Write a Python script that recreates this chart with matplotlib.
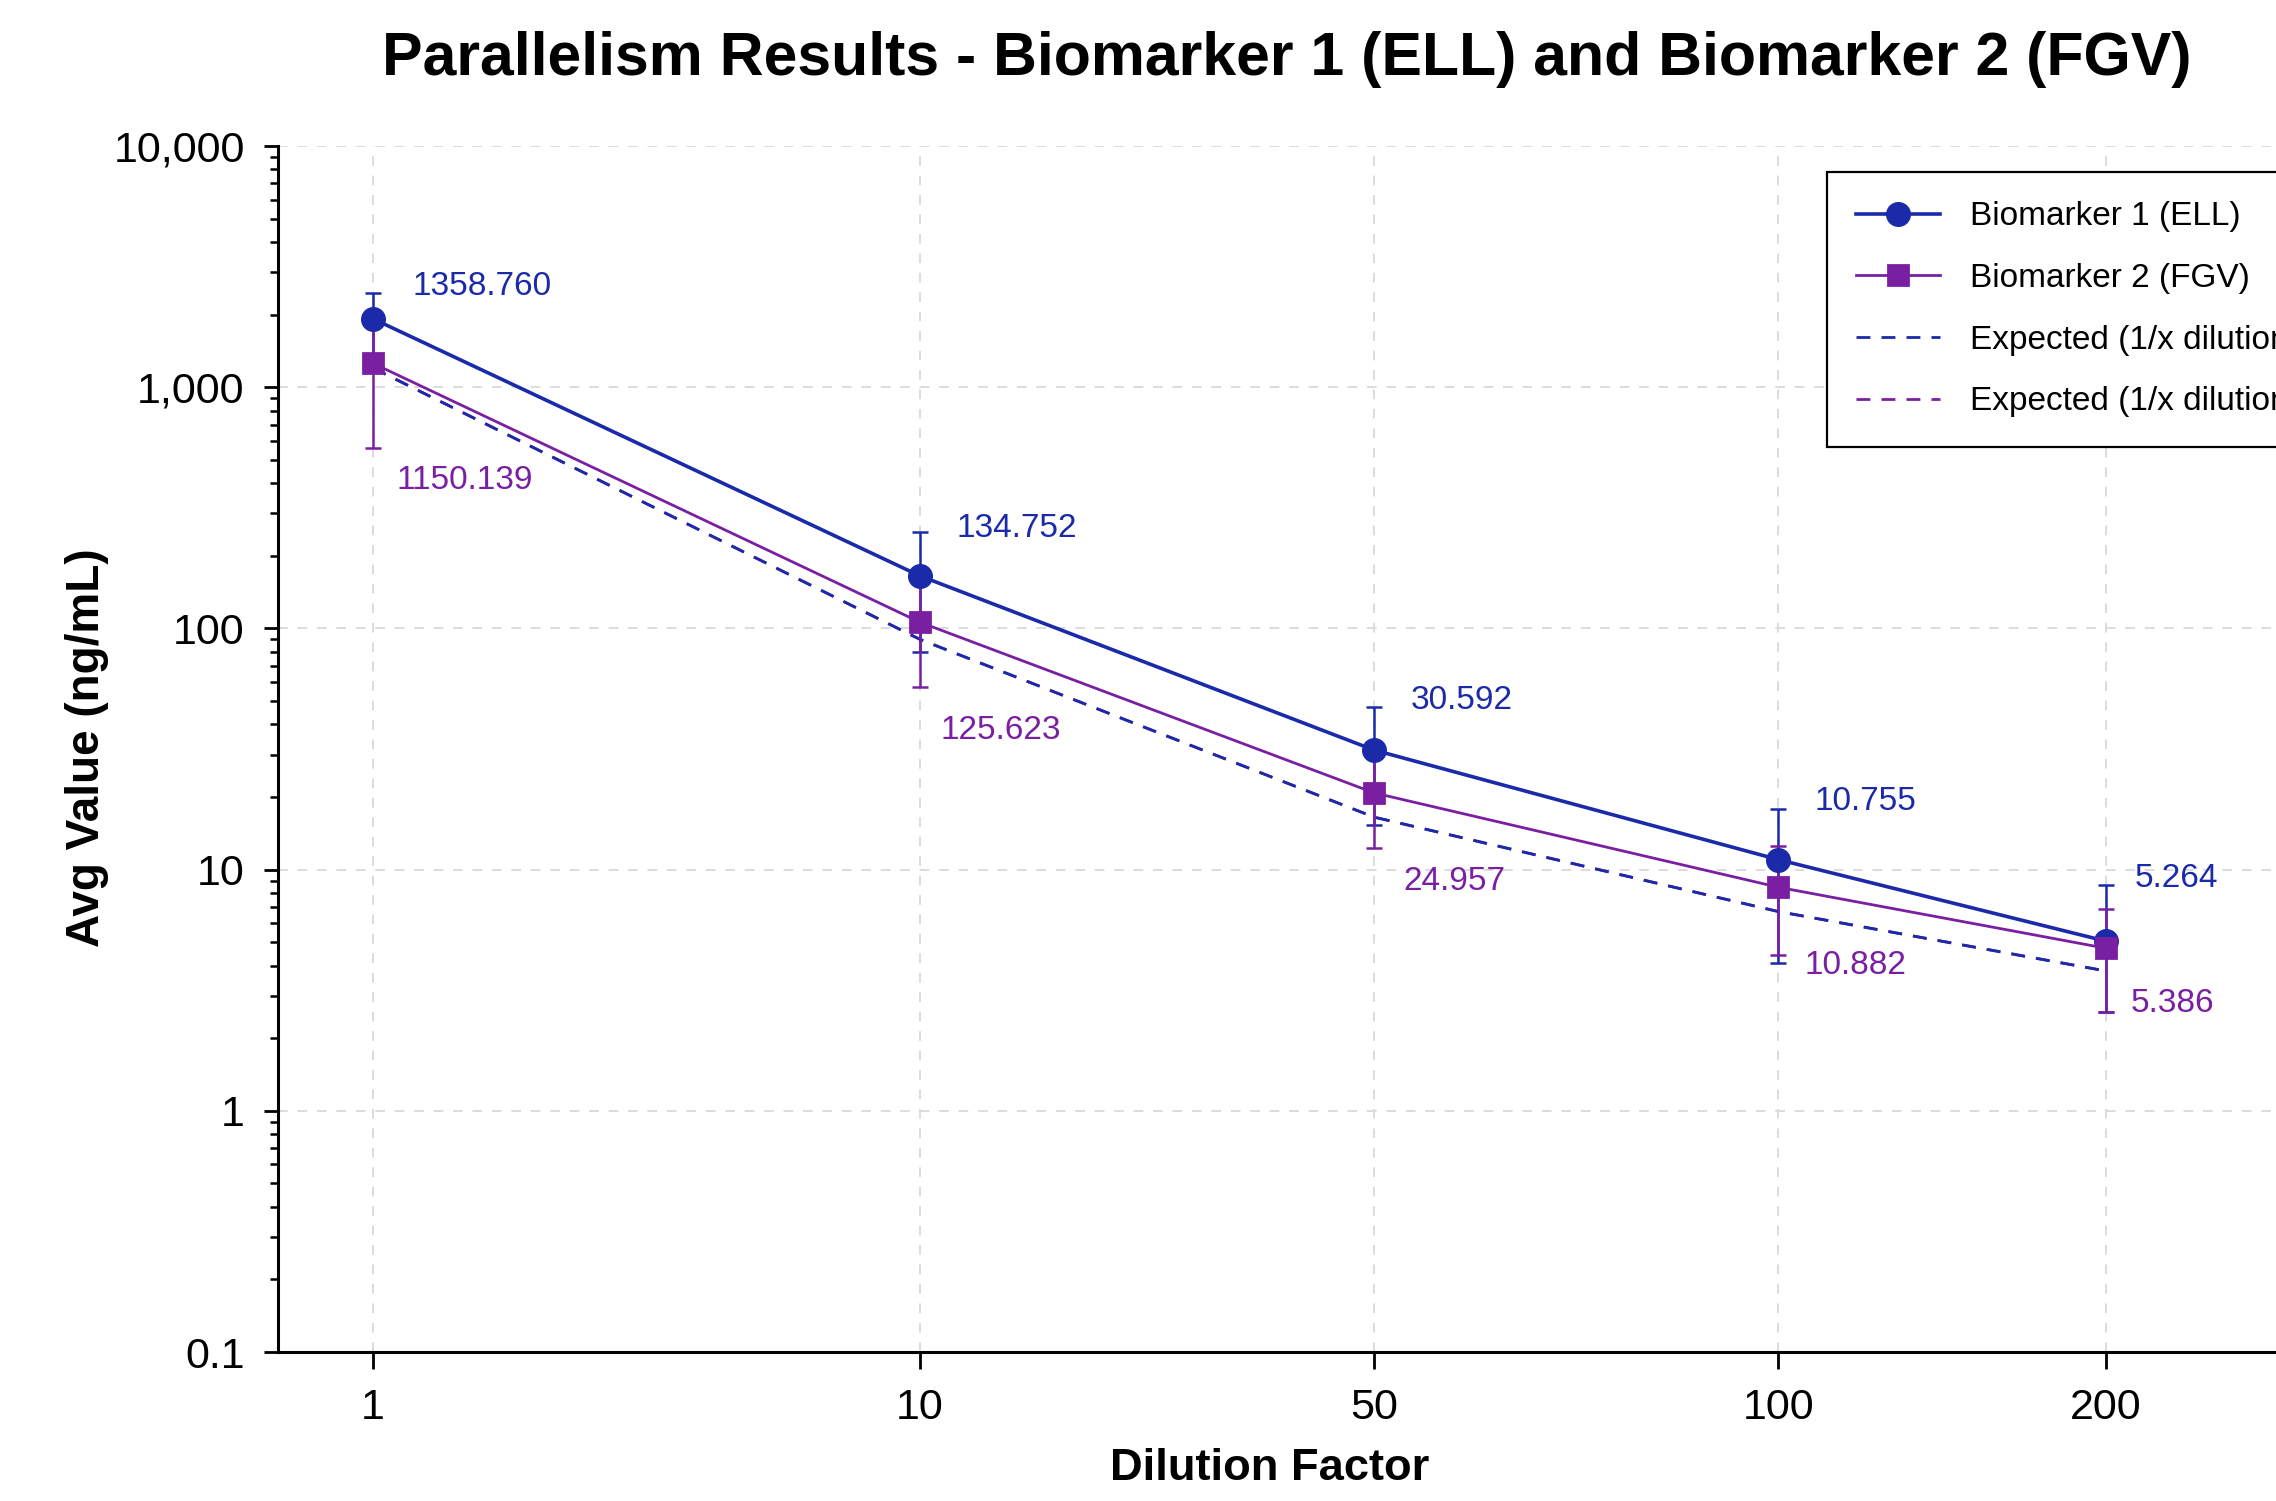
import numpy as np
import matplotlib
matplotlib.use("Agg")
import matplotlib.pyplot as plt
from matplotlib.ticker import FixedLocator, LogLocator, FuncFormatter, NullFormatter

plt.rcParams['font.family'] = ['Liberation Sans', 'DejaVu Sans']

# Datos
dilution = [1, 10, 50, 100, 200]
ell_avg = [1920, 165, 31.3, 11.0, 5.05]
ell_err_low = [545, 85, 16, 6.9, 2.48]
ell_err_high = [545, 85, 16, 6.9, 3.55]
fgv_avg = [1255, 106, 20.8, 8.45, 4.72]
fgv_err = [697, 48.6, 8.5, 4.04, 2.15]
expected = [1200, 90, 16.5, 6.7, 3.8]
ell_labels = ['1358.760', '134.752', '30.592', '10.755', '5.264']
fgv_labels = ['1150.139', '125.623', '24.957', '10.882', '5.386']

# spacing of the dilution categories as drawn on the axis
x_slot = [0, 1, 1.83, 2.569, 3.168]
ell_off = [(14, 11.5), (13, 17), (13, 18), (13, 21), (10.5, 22.5)]
fgv_off = [(8.4, -42), (7.3, -39), (10.5, -32), (9.4, -28), (8.9, -20)]

blue = '#1a2aa8'
purple = '#7b1fa2'

W, H = 2276, 1501
fig = plt.figure(figsize=(W / 200, H / 200), dpi=200)
ax = fig.add_axes([278 / W, 1 - 1352 / H, (2420 - 278) / W, (1352 - 146) / H])

ax.set_yscale('log')
ax.set_ylim(0.1, 10000)
ax.set_xlim(-0.174, (2420 - 373) / 547)

ax.grid(True, which='major', ls=(0, (5, 5)), color='#dcdcdc', lw=0.7, zorder=0)

# lineas esperadas
ax.plot(x_slot, expected, ls=(0, (5, 4)), color=purple, lw=1.0,
        label='Expected (1/x dilution)', zorder=2)
ax.plot(x_slot, expected, ls=(0, (5, 4)), color=blue, lw=1.0,
        label='Expected (1/x dilution)', zorder=2.1)

ax.errorbar(x_slot, ell_avg, yerr=[ell_err_low, ell_err_high], fmt='none', ecolor=blue,
            elinewidth=0.9, capsize=3, capthick=0.9, zorder=3)
ax.errorbar(x_slot, fgv_avg, yerr=fgv_err, fmt='none', ecolor=purple,
            elinewidth=0.9, capsize=3, capthick=0.9, zorder=3.1)
ax.plot(x_slot, ell_avg, color=blue, lw=1.3, marker='o', ms=8,
        label='Biomarker 1 (ELL)', zorder=4)
ax.plot(x_slot, fgv_avg, color=purple, lw=1.0, marker='s', ms=7.5,
        label='Biomarker 2 (FGV)', zorder=5)

for xs, v, t, o in zip(x_slot, ell_avg, ell_labels, ell_off):
    ax.annotate(t, (xs, v), xytext=o, textcoords='offset points',
                ha='left', va='center', fontsize=12, color=blue)
for xs, v, t, o in zip(x_slot, fgv_avg, fgv_labels, fgv_off):
    ax.annotate(t, (xs, v), xytext=o, textcoords='offset points',
                ha='left', va='center', fontsize=12, color=purple)

ax.xaxis.set_major_locator(FixedLocator(x_slot))
ax.set_xticklabels([str(d) for d in dilution])
ax.yaxis.set_major_locator(LogLocator(base=10, numticks=10))
ax.yaxis.set_minor_locator(LogLocator(base=10, subs=np.arange(2, 10), numticks=20))
ax.yaxis.set_minor_formatter(NullFormatter())
ax.yaxis.set_major_formatter(FuncFormatter(lambda v, p: f'{v:,.0f}' if v >= 1 else f'{v:g}'))

ax.tick_params(axis='y', which='major', direction='out', length=5, width=1, pad=7, labelsize=15.5)
ax.tick_params(axis='y', which='minor', direction='out', length=2.8, width=0.9)
ax.tick_params(axis='x', which='major', direction='out', length=6, width=1, pad=7, labelsize=15.5)

for s in ['top', 'right']:
    ax.spines[s].set_visible(False)
for s in ['left', 'bottom']:
    ax.spines[s].set_linewidth(1.1)

handles, labels = ax.get_legend_handles_labels()
order = [labels.index('Biomarker 1 (ELL)'), labels.index('Biomarker 2 (FGV)'), 1, 0]
leg = ax.legend([handles[i] for i in order], [labels[i] for i in order],
                loc='upper left', bbox_to_anchor=(1827 / W, 1 - 172 / H),
                bbox_transform=fig.transFigure, fontsize=12, frameon=True,
                fancybox=False, edgecolor='black', framealpha=1,
                handlelength=2.5, handletextpad=0.9, labelspacing=0.92,
                borderpad=0.88, borderaxespad=0)
leg.get_frame().set_linewidth(0.8)

fig.text(1287 / W, 1 - 59 / H, 'Parallelism Results - Biomarker 1 (ELL) and Biomarker 2 (FGV)',
         ha='center', va='center', fontsize=21.9, fontweight='bold')
fig.text(87 / W, 1 - 748 / H, 'Avg Value (ng/mL)', ha='center', va='center',
         rotation=90, fontsize=16.5, fontweight='bold')
fig.text(1270 / W, 1 - 1468 / H, 'Dilution Factor', ha='center', va='center',
         fontsize=16.3, fontweight='bold')

fig.savefig('out.png', dpi=200)
